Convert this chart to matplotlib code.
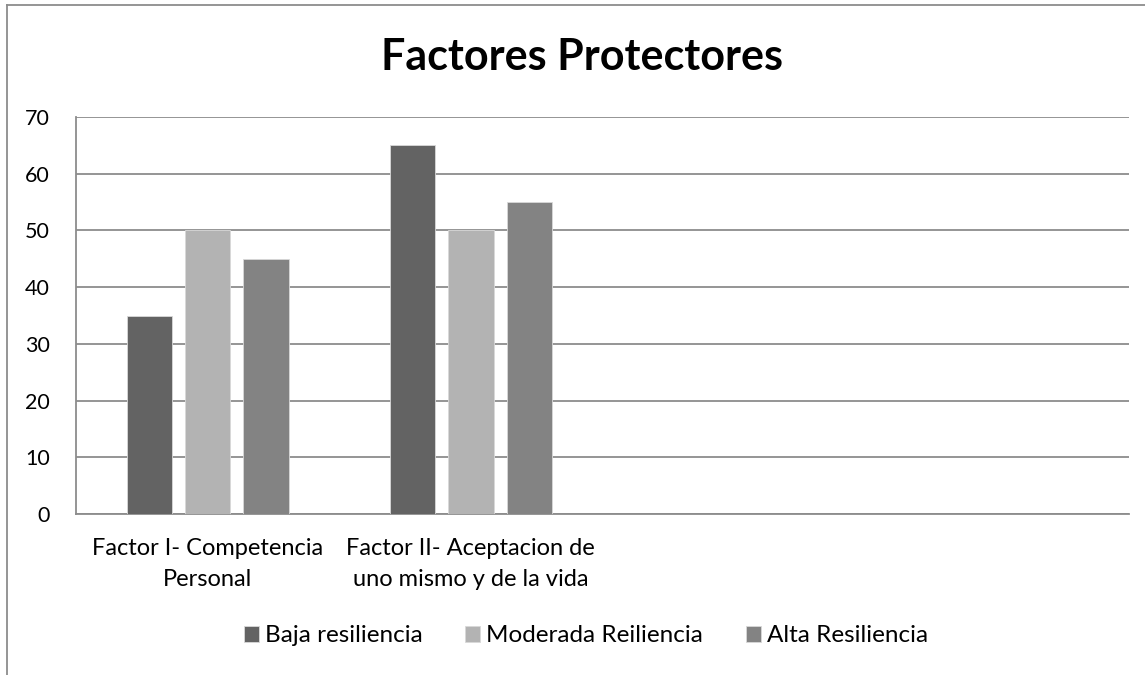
import matplotlib
matplotlib.use("Agg")
import matplotlib.pyplot as plt
import numpy as np
from matplotlib.lines import Line2D

plt.rcParams['font.family'] = ['Lato', 'DejaVu Sans']

categories = ["Factor I- Competencia\nPersonal", "Factor II- Aceptacion de\nuno mismo y de la vida", "", ""]
series_names = ["Baja resiliencia", "Moderada Reiliencia", "Alta Resiliencia"]
baja = [35, 65, 0, 0]
moderada = [50, 50, 0, 0]
alta = [45, 55, 0, 0]
colors = ["#636363", "#b3b3b3", "#838383"]
yticks = [0, 10, 20, 30, 40, 50, 60, 70]

W, H = 1145, 675
fig = plt.figure(figsize=(W / 100, H / 100), dpi=100)
ax = fig.add_axes([76 / W, 1 - 514 / H, (1129 - 76) / W, (514 - 117) / H])

x = np.arange(len(categories))
offset = 0.222
width = 0.172
n_real = 2
for i, (vals, name, c) in enumerate(zip([baja, moderada, alta], series_names, colors)):
    ax.bar(x[:n_real] + (i - 1) * offset, vals[:n_real], width=width, color=c,
           edgecolor="#d9d9d9", linewidth=0.6, label=name, zorder=3)

ax.set_xlim(-0.5, len(categories) - 0.5)
ax.set_ylim(0, 70)
ax.set_yticks(yticks)
ax.set_yticklabels([str(v) for v in yticks], fontsize=15.5)
ax.set_xticks(x[:n_real])
ax.set_xticklabels(categories[:n_real], fontsize=17, linespacing=1.6)
ax.tick_params(axis='y', length=0, pad=19)
ax.tick_params(axis='x', length=0, pad=17)
ax.grid(axis='y', color="#8c8c8c", linewidth=1.3, zorder=0)
for s in ["top", "right"]:
    ax.spines[s].set_visible(False)
ax.spines["left"].set_color("#8c8c8c")
ax.spines["bottom"].set_color("#8c8c8c")
ax.spines["left"].set_linewidth(1.3)
ax.spines["bottom"].set_linewidth(1.3)

fig.text(582 / W, 1 - 57 / H, "Factores Protectores", ha="center", va="center",
         fontsize=31, fontweight="bold")

handles, labels = ax.get_legend_handles_labels()
fig.legend(handles, labels, loc="center", bbox_to_anchor=(586 / W, 1 - 636 / H),
           ncol=3, frameon=False, fontsize=17.5, handlelength=0.62, handleheight=0.62,
           handletextpad=0.25, columnspacing=1.75)

# outer chart border
fig.add_artist(Line2D([7 / W, 7 / W], [0, 1 - 5 / H], color="#8c8c8c", linewidth=1.3,
                      transform=fig.transFigure))
fig.add_artist(Line2D([7 / W, 1], [1 - 5 / H, 1 - 5 / H], color="#8c8c8c", linewidth=1.3,
                      transform=fig.transFigure))

fig.savefig("out.png", dpi=100)
